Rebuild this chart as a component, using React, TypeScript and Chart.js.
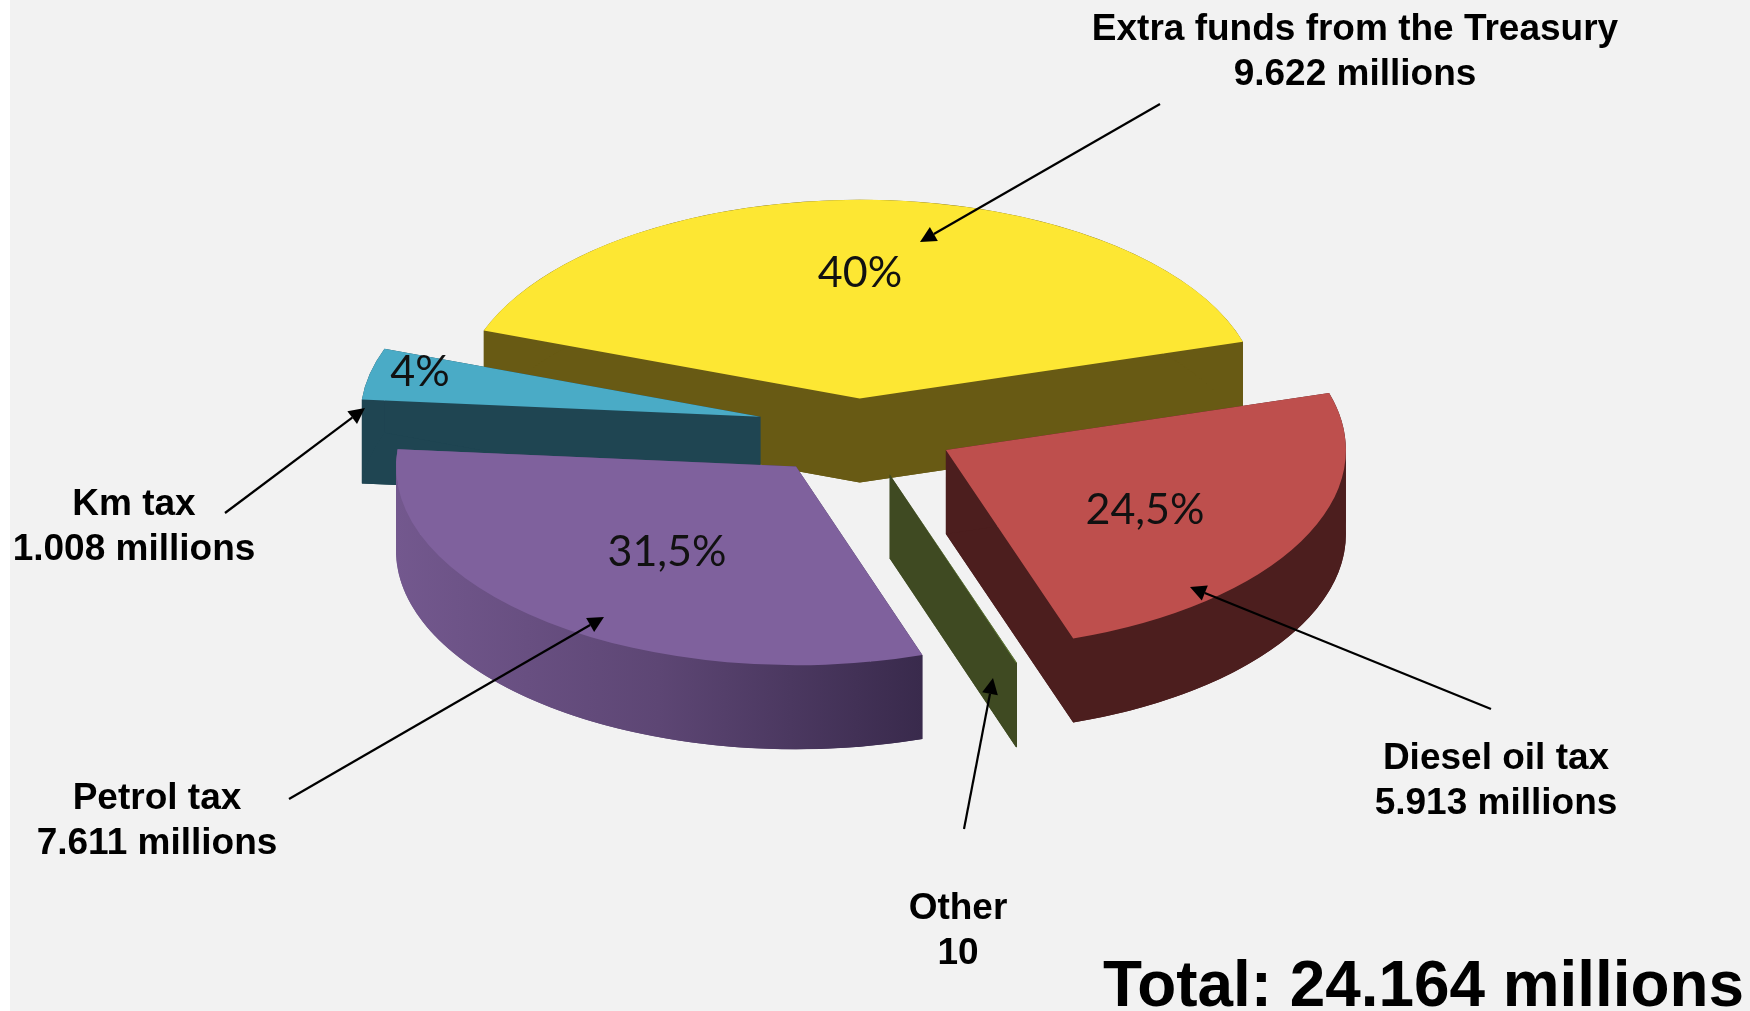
import React, { useEffect, useRef } from "react";
import { Chart, registerables } from "chart.js";

Chart.register(...registerables);

// --- data ---
const categories = ["Extra funds from the Treasury", "Diesel oil tax", "Other", "Petrol tax", "Km tax"];
const amounts = [9622, 5913, 10, 7611, 1008];
const percentLabels = ["40%", "24,5%", "", "31,5%", "4%"];
const topColors = ["#fde733", "#be4f4d", "#5f7a35", "#7f619d", "#4aabc6"];
const wallColors = ["#685a14", "#4c1e1e", "#3f4a22", "#5d4674", "#1f4552"];
const explode = [58, 99, 100, 100, 100];
const drawOrder = [0, 4, 3, 2, 1];
const totalLabel = "Total: 24.164 millions";

const WIDTH = 1750;
const HEIGHT = 1011;
const SQUASH = 0.497;
const DEPTH = 84;
const CENTER_Y = 427.4;

type Callout = { lines: string[]; cx: number; y: number; from: number[]; to: number[] };
const callouts: Callout[] = [
  { lines: ["Extra funds from the Treasury", "9.622 millions"], cx: 1355, y: 40, from: [1160, 104], to: [920, 242] },
  { lines: ["Km tax", "1.008 millions"], cx: 134, y: 515, from: [225, 513], to: [365, 408] },
  { lines: ["Petrol tax", "7.611 millions"], cx: 157, y: 809, from: [289, 799], to: [604, 617] },
  { lines: ["Diesel oil tax", "5.913 millions"], cx: 1496, y: 769, from: [1491, 709], to: [1190, 587] },
  { lines: ["Other", "10"], cx: 958, y: 919, from: [964, 829], to: [993, 678] },
];
const percentPositions = [[860, 273], [1145, 510], [0, 0], [667, 552], [420, 372]];

function drawArrow(ctx: CanvasRenderingContext2D, from: number[], to: number[]) {
  const a = Math.atan2(to[1] - from[1], to[0] - from[0]);
  const len = 16;
  const half = 8;
  const bx = to[0] - Math.cos(a) * len;
  const by = to[1] - Math.sin(a) * len;
  ctx.strokeStyle = "#000";
  ctx.fillStyle = "#000";
  ctx.lineWidth = 2.2;
  ctx.beginPath();
  ctx.moveTo(from[0], from[1]);
  ctx.lineTo(bx, by);
  ctx.stroke();
  ctx.beginPath();
  ctx.moveTo(to[0], to[1]);
  ctx.lineTo(bx - Math.sin(a) * half, by + Math.cos(a) * half);
  ctx.lineTo(bx + Math.sin(a) * half, by - Math.cos(a) * half);
  ctx.closePath();
  ctx.fill();
}

// side wall of one slice: its two cut faces and its rim, extruded downward
function drawWall(ctx: CanvasRenderingContext2D, el: any, depth: number) {
  const { x, y, outerRadius: r, startAngle: s, endAngle: e } = el;
  const radial = (a: number) => {
    const rx = x + Math.cos(a) * r;
    const ry = y + Math.sin(a) * r;
    ctx.beginPath();
    ctx.moveTo(x, y);
    ctx.lineTo(rx, ry);
    ctx.lineTo(rx, ry + depth);
    ctx.lineTo(x, y + depth);
    ctx.closePath();
    ctx.fill();
  };
  radial(s);
  radial(e);
  // split the rim where the ellipse turns back in x, so its silhouette stays vertical
  const stops = [s];
  for (let k = Math.ceil(s / Math.PI); k * Math.PI < e; k++) stops.push(k * Math.PI);
  stops.push(e);
  for (let i = 0; i + 1 < stops.length; i++) {
    ctx.beginPath();
    ctx.arc(x, y, r, stops[i], stops[i + 1]);
    ctx.arc(x, y + depth, r, stops[i + 1], stops[i], true);
    ctx.closePath();
    ctx.fill();
  }
  ctx.beginPath();
  ctx.moveTo(x, y + depth);
  ctx.arc(x, y + depth, r, s, e);
  ctx.closePath();
  ctx.fill();
}

const pie3d = {
  id: "pie3d",
  beforeDraw(chart: any) {
    const ctx = chart.ctx;
    ctx.save();
    ctx.fillStyle = "#ffffff";
    ctx.fillRect(0, 0, WIDTH, HEIGHT);
    ctx.fillStyle = "#f2f2f2";
    ctx.fillRect(10, 0, WIDTH - 10, HEIGHT);
    ctx.restore();
  },
  beforeDatasetsDraw(chart: any) {
    const ctx: CanvasRenderingContext2D = chart.ctx;
    const meta = chart.getDatasetMeta(0);
    const area = chart.chartArea;
    const cy = (area.top + area.bottom) / 2;
    ctx.save();
    ctx.translate(0, CENTER_Y);
    ctx.scale(1, SQUASH);
    ctx.translate(0, -cy);
    drawOrder.forEach((i) => {
      const el = meta.data[i];
      const mid = (el.startAngle + el.endAngle) / 2;
      const tx = Math.cos(mid) * explode[i];
      ctx.save();
      ctx.translate(tx, Math.sin(mid) * explode[i]);
      let fill: any = wallColors[i];
      if (i === 3) {
        const g = ctx.createLinearGradient(396 - tx, 0, 922 - tx, 0);
        g.addColorStop(0, "#73588e");
        g.addColorStop(0.5, "#5d4674");
        g.addColorStop(1, "#392a4c");
        fill = g;
      }
      ctx.fillStyle = fill;
      drawWall(ctx, el, DEPTH / SQUASH);
      el.draw(ctx);
      ctx.restore();
    });
    ctx.restore();
    return false;
  },
  afterDraw(chart: any) {
    const ctx: CanvasRenderingContext2D = chart.ctx;
    ctx.save();
    ctx.textAlign = "center";
    ctx.textBaseline = "middle";
    ctx.fillStyle = "#111";
    ctx.font = '43px Lato, "Open Sans", sans-serif';
    percentLabels.forEach((t, i) => {
      if (t) ctx.fillText(t, percentPositions[i][0], percentPositions[i][1]);
    });
    callouts.forEach((c) => drawArrow(ctx, c.from, c.to));
    ctx.textBaseline = "alphabetic";
    ctx.fillStyle = "#000";
    ctx.font = 'bold 37px "Liberation Sans", Arial, sans-serif';
    callouts.forEach((c) => {
      c.lines.forEach((l, k) => ctx.fillText(l, c.cx, c.y + k * 45));
    });
    ctx.textAlign = "left";
    ctx.font = 'bold 65px "Liberation Sans", Arial, sans-serif';
    ctx.fillText(totalLabel, 1103, 1006, 641);
    ctx.restore();
  },
};

export default function App() {
  const ref = useRef<HTMLCanvasElement>(null);
  useEffect(() => {
    const chart = new Chart(ref.current!, {
      type: "pie",
      data: {
        labels: categories,
        datasets: [{ data: amounts, backgroundColor: topColors, borderWidth: 0 }],
      },
      options: {
        animation: false,
        responsive: false,
        rotation: -70,
        layout: { padding: { left: 0, right: 34, top: 105.5, bottom: 105.5 } },
        plugins: { legend: { display: false }, tooltip: { enabled: false } },
      },
      plugins: [pie3d],
    } as any);
    return () => chart.destroy();
  }, []);
  return (
    <div style={{ position: "fixed", inset: 0, background: "#fff", overflow: "hidden" }}>
      <canvas ref={ref} width={WIDTH} height={HEIGHT} style={{ display: "block" }} />
    </div>
  );
}
